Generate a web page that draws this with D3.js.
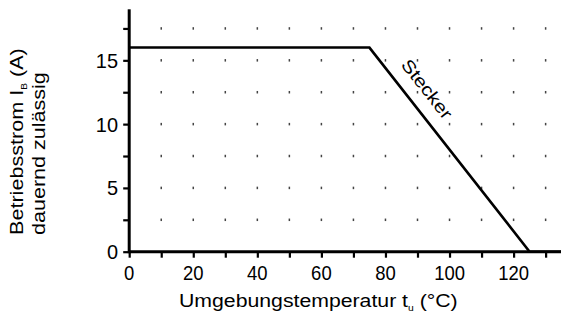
<!DOCTYPE html>
<html><head><meta charset="utf-8">
<script src="https://cdn.jsdelivr.net/npm/d3@7"></script>
<style>body{margin:0;background:#fff}svg{display:block}</style>
</head><body>
<svg id="c" width="561" height="313"></svg>
<script>
const curveX = [0, 75, 125, 135];
const curveY = [16, 16, 0, 0];
const xTickLabels = [0, 20, 40, 60, 80, 100, 120];
const xMinorTicks = [0,10,20,30,40,50,60,70,80,90,100,110,120,130];
const yTickLabels = [0, 5, 10, 15];
const yMinorTicks = [0, 2.5, 5, 7.5, 10, 12.5, 15, 17.5];
const dotX = [10,20,30,40,50,60,70,80,90,100,110,120,130];
const dotY = [2.5,5,7.5,10,12.5,15,17.5];
const seriesLabel = "Stecker";

const svg = d3.select("#c");
const x = d3.scaleLinear().domain([0, 134.8]).range([129.2, 561]);
const y = d3.scaleLinear().domain([0, 19]).range([251.7, 9.3]);
const font = "'Liberation Sans', Arial, sans-serif";

// stretch a text element along its own direction to a target length
function fit(sel, tx, ty, rot, target) {
  const w = sel.node().getBBox().width;
  const s = target / w;
  sel.attr("transform", `translate(${tx},${ty}) rotate(${rot}) scale(${s},1)`);
}

// dots grid
const g = svg.append("g");
dotY.forEach(v => {
  g.selectAll(null).data(dotX).enter().append("rect")
    .attr("x", d => x(d) - 0.75).attr("y", y(v) - 1.25)
    .attr("width", 1.5).attr("height", 2.5).attr("fill", "#444");
});

// x axis
const xAxis = d3.axisBottom(x).tickValues(xMinorTicks).tickSize(6).tickFormat("");
const xa = svg.append("g").attr("transform", `translate(0,${y(0)})`).call(xAxis);
xa.select(".domain").remove();
xa.selectAll(".tick line").attr("stroke", "#000").attr("stroke-width", 2.2);
svg.append("line").attr("x1", x(0)).attr("x2", 561).attr("y1", y(0)).attr("y2", y(0))
  .attr("stroke", "#000").attr("stroke-width", 3);
svg.selectAll(".xl").data(xTickLabels).enter().append("text")
  .attr("transform", d => `translate(${x(d)},280) scale(0.88,1)`).attr("text-anchor", "middle")
  .attr("font-family", font).attr("font-size", 21).text(d => d);

// y axis
const yAxis = d3.axisLeft(y).tickValues(yMinorTicks).tickSize(6).tickFormat("");
const ya = svg.append("g").attr("transform", `translate(${x(0)},0)`).call(yAxis);
ya.select(".domain").remove();
ya.selectAll(".tick line").attr("stroke", "#000").attr("stroke-width", 2.2);
svg.append("line").attr("x1", x(0)).attr("x2", x(0)).attr("y1", y(19)).attr("y2", y(0) + 1.5)
  .attr("stroke", "#000").attr("stroke-width", 3);
svg.selectAll(".yl").data(yTickLabels).enter().append("text")
  .attr("transform", d => `translate(118,${y(d) + 7.5}) scale(0.95,1)`).attr("text-anchor", "end")
  .attr("font-family", font).attr("font-size", 21).text(d => d);

// curve
const line = d3.line().x(d => x(d[0])).y(d => y(d[1]));
svg.append("path").datum(curveX.map((v, i) => [v, curveY[i]]))
  .attr("d", line).attr("fill", "none").attr("stroke", "#000")
  .attr("stroke-width", 2.6).attr("stroke-linejoin", "miter");

// series label
const p1 = [x(75), y(16)], p2 = [x(125), y(0)];
const ang = Math.atan2(p2[1] - p1[1], p2[0] - p1[0]) * 180 / Math.PI;
const sl = svg.append("text").attr("text-anchor", "middle").attr("dy", "0.35em")
  .attr("font-family", font).attr("font-size", 17.5)
  .attr("stroke", "#fff").attr("stroke-width", 3).attr("paint-order", "stroke")
  .text(seriesLabel);
fit(sl, 427, 89, ang, 71);

// x title
const xt = svg.append("text").attr("font-family", font).attr("font-size", 18.5);
xt.append("tspan").text("Umgebungstemperatur t");
xt.append("tspan").attr("font-size", 9).attr("dy", 4).text("u");
xt.append("tspan").attr("dy", -4).text(" (°C)");
fit(xt, 179, 306.5, 0, 279);

// y title
const yt1 = svg.append("text").attr("font-family", font).attr("font-size", 19);
yt1.append("tspan").text("Betriebsstrom I");
yt1.append("tspan").attr("font-size", 9).attr("dy", 4).text("B");
yt1.append("tspan").attr("dy", -4).text(" (A)");
fit(yt1, 23, 235, -90, 187);
const yt2 = svg.append("text").attr("font-family", font).attr("font-size", 19)
  .text("dauernd zulässig");
fit(yt2, 45, 235, -90, 163);
</script>
</body></html>
